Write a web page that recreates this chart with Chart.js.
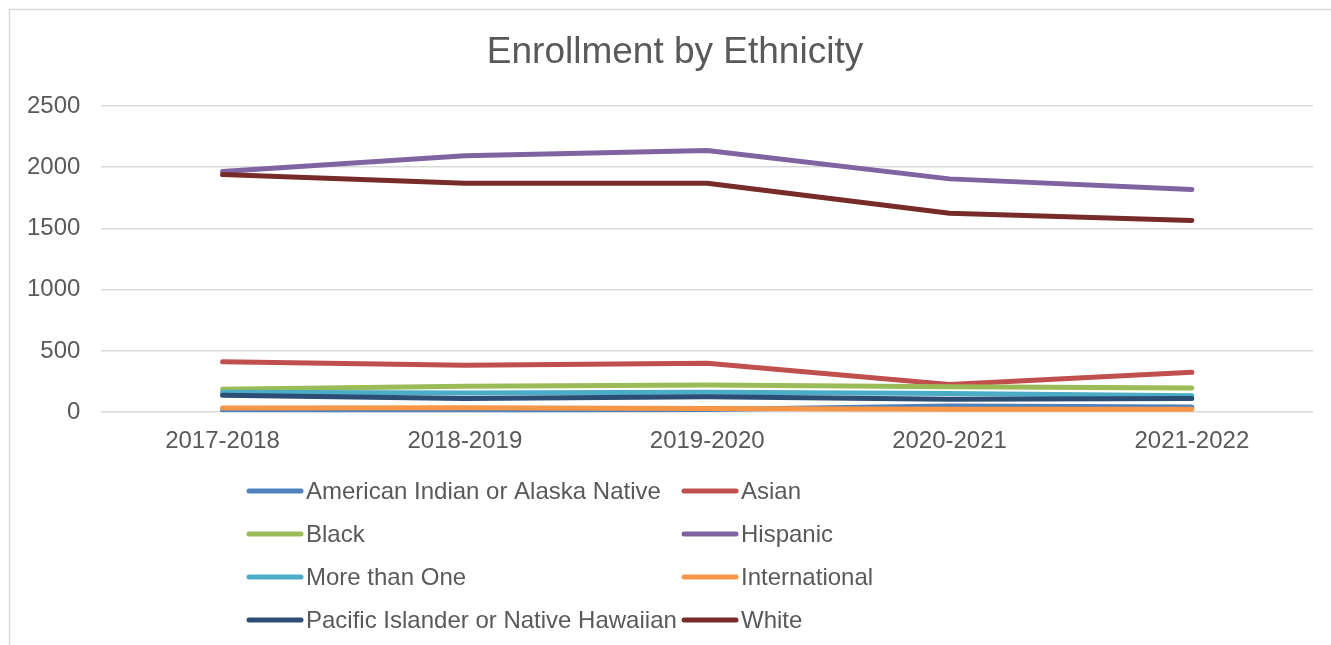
<!DOCTYPE html>
<html>
<head>
<meta charset="utf-8">
<script src="https://cdn.jsdelivr.net/npm/chart.js@4/dist/chart.umd.min.js"></script>
<style>
  html, body { margin: 0; padding: 0; background: #ffffff; overflow: hidden; }
  #wrap { position: absolute; left: 0; top: 0; width: 1331px; height: 645px; }
</style>
</head>
<body>
<div id="wrap"><canvas id="chart" width="1331" height="645"></canvas></div>
<script>
// School years on the x axis
const years = ['2017-2018', '2018-2019', '2019-2020', '2020-2021', '2021-2022'];

// Enrollment counts per ethnicity group
const americanIndian = [18, 10, 22, 50, 42];
const asian = [412, 383, 399, 226, 326];
const black = [187, 212, 222, 208, 198];
const hispanic = [1965, 2093, 2136, 1905, 1818];
const moreThanOne = [163, 157, 163, 152, 135];
const international = [35, 37, 30, 24, 24];
const pacificIslander = [139, 111, 127, 106, 111];
const white = [1940, 1870, 1870, 1625, 1565];

// Y axis range and step
const yMin = 0;
const yMax = 2500;
const yStep = 500;

const chartTitle = 'Enrollment by Ethnicity';

const seriesNames = [
  'American Indian or Alaska Native', 'Asian', 'Black', 'Hispanic',
  'More than One', 'International', 'Pacific Islander or Native Hawaiian', 'White'
];
const seriesValues = [americanIndian, asian, black, hispanic, moreThanOne, international, pacificIslander, white];
const seriesColors = ['#4F81BD', '#C0504D', '#9BBB59', '#8064A2', '#4BACC6', '#F79646', '#2C4D75', '#772C2A'];

const FONT = '"Liberation Sans", Arial, Helvetica, sans-serif';
const TEXT = '#595959';

const datasets = seriesNames.map((name, i) => ({
  label: name,
  data: seriesValues[i],
  borderColor: seriesColors[i],
  backgroundColor: seriesColors[i],
  borderWidth: 5,
  borderCapStyle: 'round',
  borderJoinStyle: 'round',
  pointRadius: 0,
  pointHoverRadius: 0,
  tension: 0,
  fill: false,
  // later series are painted over earlier ones
  order: seriesNames.length - 1 - i
}));

// Outer frame and heading of the chart
const framePlugin = {
  id: 'frame',
  beforeDraw(chart) {
    const ctx = chart.ctx;
    ctx.save();
    ctx.fillStyle = '#ffffff';
    ctx.fillRect(0, 0, chart.width, chart.height);
    ctx.strokeStyle = '#d9d9d9';
    ctx.lineWidth = 1.5;
    ctx.strokeRect(9.5, 9.5, chart.width + 20, chart.height + 20);
    ctx.font = '37px ' + FONT;
    ctx.fillStyle = TEXT;
    ctx.textAlign = 'center';
    ctx.textBaseline = 'middle';
    ctx.fillText(chartTitle, 675, 53);
    ctx.restore();
  }
};

// Two-column legend under the axis
const legendPlugin = {
  id: 'twoColLegend',
  afterDraw(chart) {
    const ctx = chart.ctx;
    const left = 249, colW = 435, top = 491, rowH = 43, lineLen = 52;
    ctx.save();
    ctx.font = '24px ' + FONT;
    ctx.textBaseline = 'middle';
    ctx.textAlign = 'left';
    chart.data.datasets.forEach((ds, i) => {
      const col = i % 2, row = Math.floor(i / 2);
      const x = left + col * colW;
      const y = top + row * rowH;
      ctx.strokeStyle = ds.borderColor;
      ctx.lineWidth = 5;
      ctx.lineCap = 'round';
      ctx.beginPath();
      ctx.moveTo(x, y);
      ctx.lineTo(x + lineLen, y);
      ctx.stroke();
      ctx.fillStyle = TEXT;
      ctx.fillText(ds.label, x + 57, y + 1);
    });
    ctx.restore();
  }
};

new Chart(document.getElementById('chart'), {
  type: 'line',
  data: { labels: years, datasets },
  plugins: [framePlugin, legendPlugin],
  options: {
    responsive: false,
    animation: false,
    devicePixelRatio: 1,
    layout: { padding: { left: 6, right: 18, top: 106, bottom: 174 } },
    plugins: {
      legend: { display: false },
      tooltip: { enabled: false },
      title: { display: false }
    },
    scales: {
      x: {
        offset: true,
        grid: { display: false, drawTicks: false },
        border: { display: false },
        ticks: { color: TEXT, font: { family: FONT, size: 24 }, padding: 15, maxRotation: 0 }
      },
      y: {
        min: yMin,
        max: yMax,
        grid: { color: '#d9d9d9', lineWidth: 1.5, drawTicks: false },
        border: { display: false },
        ticks: {
          stepSize: yStep, color: TEXT, font: { family: FONT, size: 24 }, padding: 21,
          callback: (v) => String(v)
        }
      }
    }
  }
});
</script>
</body>
</html>
